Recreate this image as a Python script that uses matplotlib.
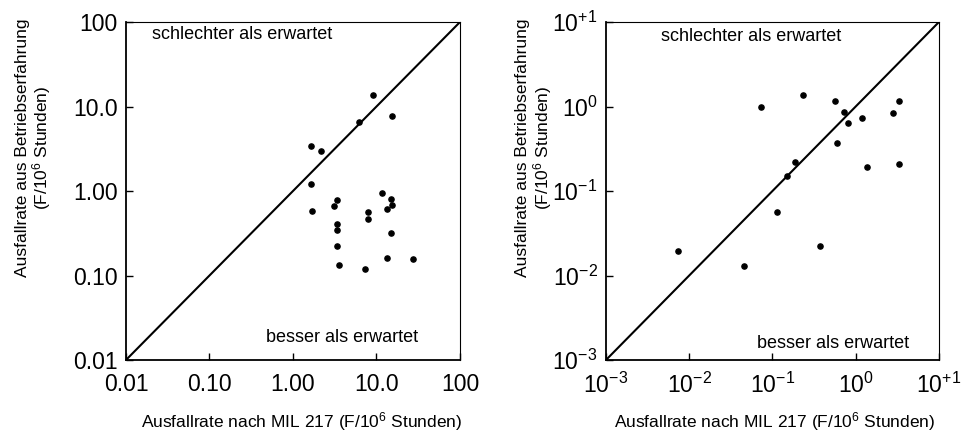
import matplotlib
matplotlib.use('Agg')
import matplotlib.pyplot as plt

plt.rcParams['font.family'] = ['Liberation Sans', 'DejaVu Sans']
plt.rcParams['mathtext.fontset'] = 'custom'
plt.rcParams['mathtext.rm'] = 'Liberation Sans'
plt.rcParams['mathtext.default'] = 'regular'

# linkes Diagramm: MIL 217 vs. Betriebserfahrung
mil_links = [9.2, 6.15, 15.4, 1.66, 2.16, 1.66, 1.69, 3.36, 3.09, 3.36, 3.36, 3.4,
             3.55, 7.2, 7.9, 7.9, 11.5, 15.1, 15.4, 13.5, 15.1, 13.5, 27.7]
betrieb_links = [13.5, 6.5, 7.7, 3.43, 2.94, 1.22, 0.577, 0.785, 0.673, 0.408, 0.343, 0.224,
                 0.133, 0.119, 0.561, 0.468, 0.94, 0.807, 0.691, 0.615, 0.316, 0.16, 0.155]

# rechtes Diagramm
mil_rechts = [0.00735, 0.0452, 0.0731, 0.113, 0.149, 0.187, 0.23, 0.371, 0.561, 0.6,
              0.721, 0.806, 1.19, 1.35, 2.77, 3.33, 3.27]
betrieb_rechts = [0.0195, 0.0129, 1.0, 0.0564, 0.149, 0.223, 1.37, 0.0223, 1.16, 0.367,
                  0.857, 0.634, 0.734, 0.191, 0.833, 1.16, 0.207]

ticks_links = [0.01, 0.1, 1, 10, 100]
labels_links = ['0.01', '0.10', '1.00', '10.0', '100']
ticks_rechts = [1e-3, 1e-2, 1e-1, 1, 10]
labels_rechts = [r'$10^{-3}$', r'$10^{-2}$', r'$10^{-1}$', r'$10^{0}$', r'$10^{+1}$']

xlabel = r'Ausfallrate nach MIL 217 (F/10$^{6}$ Stunden)'
ylabel = 'Ausfallrate aus Betriebserfahrung\n' + r'(F/10$^{6}$ Stunden)'

fig = plt.figure(figsize=(9.66, 4.34), dpi=100)
ax1 = fig.add_axes([0.1304, 0.1705, 0.3458, 0.7788])
ax2 = fig.add_axes([0.6273, 0.1705, 0.3447, 0.7788])

setup = [
    (ax1, mil_links, betrieb_links, ticks_links, labels_links, -0.275, 0.527, 0.347, 0.962, 0.647, 0.068),
    (ax2, mil_rechts, betrieb_rechts, ticks_rechts, labels_rechts, -0.215, 0.507, 0.435, 0.956, 0.682, 0.05),
]

for ax, xs, ys, ticks, labels, ylx, xlx, sx, sy, bx, by in setup:
    ax.set_xscale('log')
    ax.set_yscale('log')
    lo, hi = ticks[0], ticks[-1]
    ax.set_xlim(lo, hi)
    ax.set_ylim(lo, hi)
    ax.plot([lo, hi], [lo, hi], color='black', lw=1.5)
    ax.scatter(xs, ys, s=14, color='black', zorder=3)

    ax.set_xticks(ticks)
    ax.set_xticklabels(labels)
    ax.set_yticks(ticks)
    ax.set_yticklabels(labels)
    ax.minorticks_off()
    ax.tick_params(axis='x', direction='in', length=5, width=1, pad=9, labelsize=16.5)
    ax.tick_params(axis='y', direction='in', length=5, width=1, pad=6, labelsize=16.5)

    for sp in ax.spines.values():
        sp.set_linewidth(0.8)
    ax.spines['left'].set_linewidth(1.3)
    ax.spines['bottom'].set_linewidth(1.3)

    ax.set_xlabel(xlabel, fontsize=12.5, va='center')
    ax.xaxis.set_label_coords(xlx, -0.183)
    ax.set_ylabel(ylabel, fontsize=12.5, linespacing=1.05, va='center')
    ax.yaxis.set_label_coords(ylx, 0.627)

    ax.text(sx, sy, 'schlechter als erwartet', transform=ax.transAxes,
            ha='center', va='center', fontsize=13)
    ax.text(bx, by, 'besser als erwartet', transform=ax.transAxes,
            ha='center', va='center', fontsize=13)

plt.savefig('out.png', dpi=100)
